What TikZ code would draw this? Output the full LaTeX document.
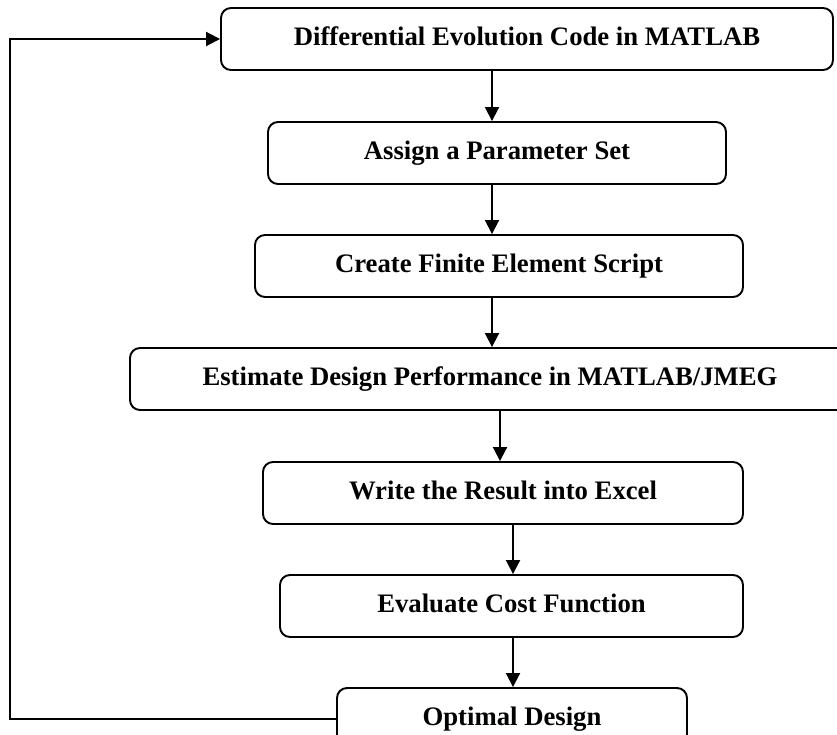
\documentclass[tikz,border=0pt]{standalone}
\usepackage{fontspec}
\setmainfont{Liberation Serif}
\usetikzlibrary{arrows.meta}
\begin{document}
\begin{tikzpicture}[x=1pt,y=-1pt,
  box/.style={draw,line width=1.9pt,rounded corners=10pt,inner sep=0pt,
    minimum height=62pt,text height=18pt,text depth=5pt,
    font=\fontsize{26.7}{30}\selectfont\bfseries},
  arr/.style={line width=1.9pt,-{Triangle[length=14pt,width=14pt]}}]
\useasboundingbox (0,0) rectangle (837,735);
\node[box,minimum width=612pt] (B1) at (527,39) {Differential Evolution Code in MATLAB};
\node[box,minimum width=458pt] (B2) at (497,153) {Assign a Parameter Set};
\node[box,minimum width=488pt] (B3) at (499,266) {Create Finite Element Script};
\node[box,minimum width=720pt] (B4) at (490,379) {Estimate Design Performance in MATLAB/JMEG};
\node[box,minimum width=480pt] (B5) at (503,493) {Write the Result into Excel};
\node[box,minimum width=463pt] (B6) at (511.5,606) {Evaluate Cost Function};
\node[box,minimum width=350pt] (B7) at (512,719) {Optimal Design};
\coordinate (a1) at (492,0);
\coordinate (a2) at (500,0);
\coordinate (a3) at (513,0);
\coordinate (L) at (10,400);
\draw[arr] (B1.south -| a1) -- (B2.north -| a1);
\draw[arr] (B2.south -| a1) -- (B3.north -| a1);
\draw[arr] (B3.south -| a1) -- (B4.north -| a1);
\draw[arr] (B4.south -| a2) -- (B5.north -| a2);
\draw[arr] (B5.south -| a3) -- (B6.north -| a3);
\draw[arr] (B6.south -| a3) -- (B7.north -| a3);
\draw[arr] (B7.west) -| (L) |- (B1.west);
\end{tikzpicture}
\end{document}
